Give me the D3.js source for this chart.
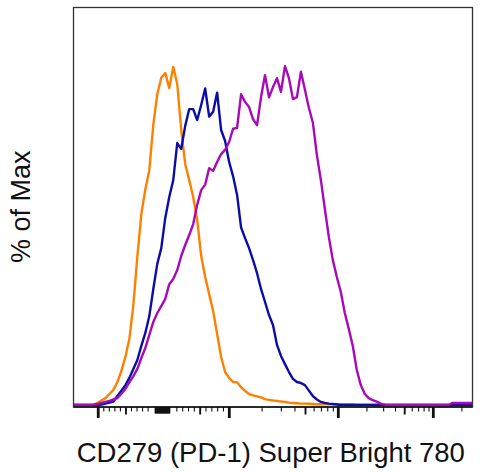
<!DOCTYPE html>
<html>
<head>
<meta charset="utf-8">
<script src="https://cdn.jsdelivr.net/npm/d3@7"></script>
<style>
  body { margin: 0; background: #fff; }
  text { font-family: "Liberation Sans", Arial, Helvetica, sans-serif; }
</style>
</head>
<body>
<div id="chart"></div>
<script>
// ===== data: histogram bins across the display (channel 0..100), % of max =====
const binCount = 100

const orangeValues = [
  0, 0, 0, 0, 0, 0, 0.6, 1.3, 2.0, 3.2,
  4.4, 6.7, 9.9, 14.0, 19.2, 29.1, 43.2, 55.6, 62.8, 68.4,
  81.6, 90.6, 95.3, 96.7, 92.3, 98.5, 93.5, 80.1, 70.2, 65.5,
  60.6, 53.9, 43.4, 37.3, 32.3, 27.4, 20.7, 14.0, 9.6, 7.9,
  6.7, 6.6, 5.2, 4.1, 3.2, 2.8, 2.5, 2.2, 1.7, 1.5,
  1.3, 1.2, 1.0, 0.9, 0.7, 0.6, 0.5, 0.4, 0.4, 0.35,
  0.3, 0.2, 0.2, 0.2, 0.2, 0.2, 0.2, 0.2, 0.2, 0.2,
  0.2, 0.1, 0.1, 0.1, 0.1, 0.1, 0.1, 0.1, 0, 0,
  0, 0, 0, 0, 0, 0, 0, 0, 0, 0,
  0, 0, 0, 0, 0, 0, 0, 0, 0, 0, 0
]

const blueValues = [
  0, 0, 0, 0, 0, 0, 0, 0.1, 0.4, 0.7,
  1.0, 2.6, 4.2, 5.8, 7.9, 10.5, 13.1, 17.2, 21.0, 25.9,
  33.8, 41.1, 45.7, 54.5, 60.6, 65.5, 76.3, 74.6, 81.3, 86.2,
  86.2, 83.0, 87.4, 92.2, 84.0, 85.4, 91.0, 80.1, 76.9, 70.8,
  66.6, 61.2, 51.7, 48.6, 45.7, 42.2, 38.4, 33.8, 30.0, 26.2,
  23.3, 17.5, 14.3, 11.9, 9.6, 7.6, 6.7, 6.4, 5.8, 4.2,
  2.6, 1.6, 0.9, 0.6, 0.4, 0.3, 0.15, 0, 0, 0,
  0, 0, 0, 0, 0, 0, 0, 0, 0, 0,
  0, 0, 0, 0, 0, 0, 0, 0, 0, 0,
  0, 0, 0, 0, 0, 0, 0, 0, 0, 0, 0
]

const magentaValues = [
  0, 0, 0, 0, 0, 0.1, 0.3, 0.6, 0.9, 1.2,
  1.6, 2.0, 3.3, 4.7, 6.6, 8.4, 10.5, 13.7, 16.6, 20.4,
  24.2, 26.8, 28.8, 30.9, 35.2, 36.7, 39.3, 43.4, 46.6, 49.5,
  52.7, 58.3, 62.6, 64.2, 69.0, 68.2, 70.8, 73.1, 74.3, 76.6,
  80.5, 80.7, 90.5, 88.3, 86.8, 83.3, 81.5, 89.7, 96.1, 89.6,
  92.6, 95.2, 91.2, 98.7, 95.2, 89.1, 89.7, 97.1, 91.8, 86.5,
  82.2, 72.8, 65.5, 57.1, 48.9, 42.2, 37.3, 32.9, 26.8, 22.1,
  17.2, 10.2, 5.8, 3.2, 2.0, 1.4, 1.0, 0.4, 0.1, 0,
  0, 0, 0, 0, 0, 0, 0, 0, 0, 0,
  0, 0, 0, 0, 0, 0.6, 0.6, 0.6, 0.6, 0.6, 0.6
]

const seriesNames = ["orange", "blue", "magenta"]
const seriesColors = ["#ff8000", "#0c0ca6", "#a70ab8"]

// axis ticks (fluorescence values)
const majorTicks = [-1000, 1000, 10000, 100000]
const mediumTicks = [-500, 500, 5000, 50000]
const minorTicks = [-900, -800, -700, -600, -400, -300, -200, -100,
  100, 200, 300, 400, 600, 700, 800, 900,
  2000, 3000, 4000, 6000, 7000, 8000, 9000,
  20000, 30000, 40000, 60000, 70000, 80000, 90000, 200000]
const zeroTicks = [-50, -45, -40, -35, -30, -25, -20, -15, -10, -5, 0,
  5, 10, 15, 20, 25, 30, 35, 40, 45, 50]

const xLabel = "CD279 (PD-1) Super Bright 780"
const yLabel = "% of Max"

// ===== layout =====
const width = 480, height = 472
const margin = {left: 73.5, top: 7.5}
const W = 399, H = 399.5

const svg = d3.select("#chart").append("svg")
  .attr("width", width)
  .attr("height", height)

const g = svg.append("g")
  .attr("transform", `translate(${margin.left},${margin.top})`)

// channel -> pixel
const x = d3.scaleLinear().domain([0, binCount]).range([0, W])
const y = d3.scaleLinear().domain([0, 100]).range([H - 2, 54.2])

// biexponential-ish display transform: value -> channel
const linPart = d3.scaleLinear().domain([-1000, -100, 100, 1000]).range([6.2, 18.7, 25.9, 39.05])
const logPart = d3.scaleLog().domain([1000, 10000, 100000]).range([39.05, 66.37, 90.18])
const toChannel = v => v <= 1000 ? linPart(v) : logPart(v)
const xVal = v => x(toChannel(v))

// ===== curves =====
g.append("clipPath").attr("id", "clip")
  .append("rect").attr("width", W).attr("height", H)

const line = d3.line()
  .x((d, i) => x(i))
  .y(d => y(d))

const allSeries = [orangeValues, blueValues, magentaValues]

g.append("g")
  .attr("clip-path", "url(#clip)")
  .selectAll("path")
  .data(allSeries)
  .join("path")
    .attr("d", line)
    .attr("fill", "none")
    .attr("stroke", (d, i) => seriesColors[i])
    .attr("stroke-width", 2.4)
    .attr("stroke-linejoin", "round")

// ===== frame =====
g.append("rect")
  .attr("width", W)
  .attr("height", H)
  .attr("fill", "none")
  .attr("stroke", "#333")
  .attr("stroke-width", 1.3)

g.append("line")
  .attr("x1", 0).attr("x2", W)
  .attr("y1", H).attr("y2", H)
  .attr("stroke", "#111")
  .attr("stroke-width", 1.6)

// ===== ticks =====
const tickGroups = [
  {values: zeroTicks, len: 6.5, w: 1.4},
  {values: minorTicks, len: 4.5, w: 1.1},
  {values: mediumTicks, len: 7.5, w: 1.9},
  {values: majorTicks, len: 11, w: 2.8}
]

tickGroups.forEach(tg => {
  g.append("g")
    .selectAll("line")
    .data(tg.values)
    .join("line")
      .attr("x1", d => xVal(d))
      .attr("x2", d => xVal(d))
      .attr("y1", H)
      .attr("y2", H + tg.len)
      .attr("stroke", "#111")
      .attr("stroke-width", tg.w)
})

// ===== labels =====
svg.append("text")
  .attr("x", 270.8)
  .attr("y", 461.7)
  .attr("text-anchor", "middle")
  .attr("font-size", 27.5)
  .attr("fill", "#111")
  .text(xLabel)

svg.append("text")
  .attr("transform", "translate(30,206.7) rotate(-90)")
  .attr("text-anchor", "middle")
  .attr("font-size", 27)
  .attr("fill", "#111")
  .text(yLabel)
</script>
</body>
</html>
